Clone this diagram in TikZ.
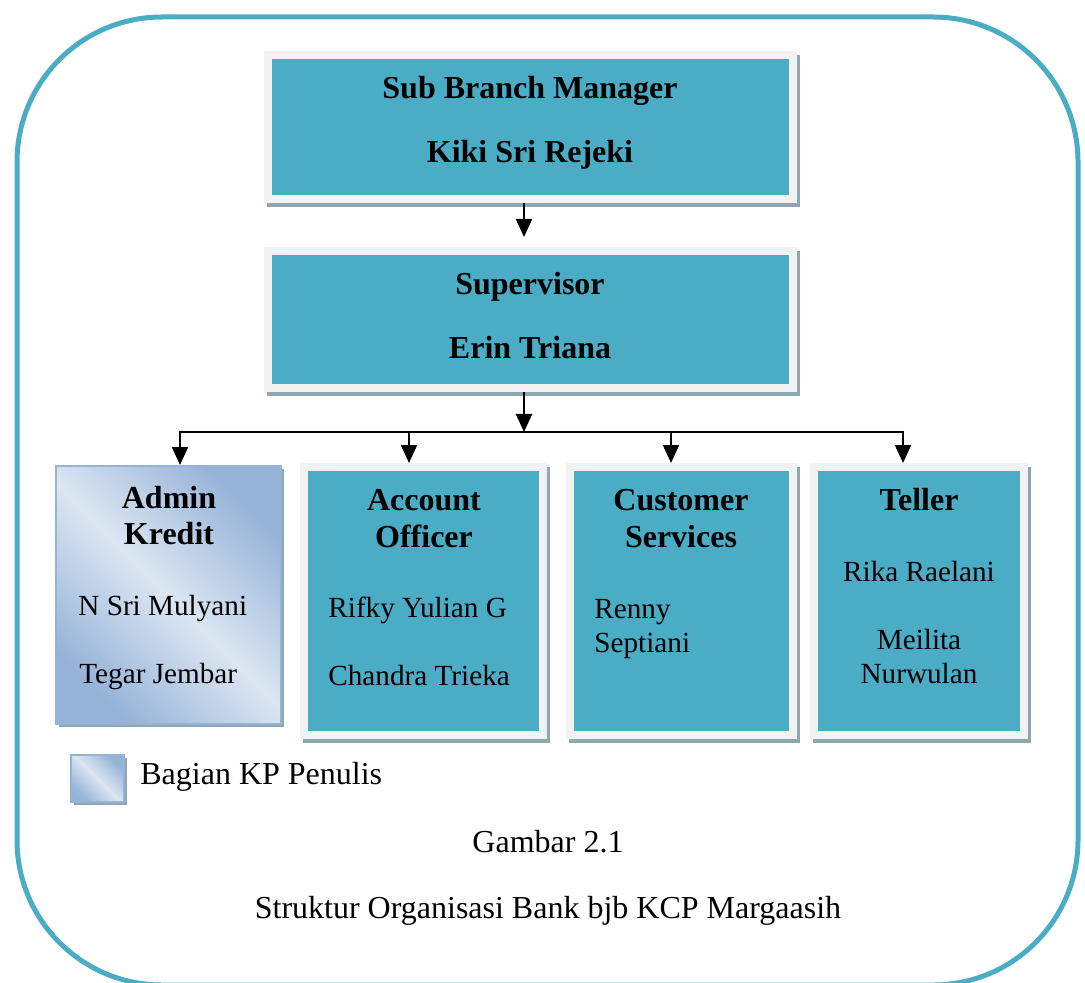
\documentclass[tikz,border=0pt]{standalone}
\usepackage{fontspec}
\setmainfont{Liberation Serif}
\usepackage{xcolor}
\usetikzlibrary{arrows.meta,shadows,positioning}

\definecolor{boxteal}{HTML}{4BACC6}
\definecolor{boxrim}{HTML}{F2F2F2}
\definecolor{boxshade}{HTML}{8FA7AF}
\definecolor{credlight}{HTML}{DCE6F2}
\definecolor{creddark}{HTML}{95B3D7}

\tikzset{
  unitbox/.style={rectangle,inner sep=0pt,fill=boxteal,draw=boxrim,line width=4pt,
    drop shadow={shadow xshift=1.5pt,shadow yshift=-2pt,fill=boxshade,draw=boxshade,line width=4pt,opacity=1}},
  credbox/.style={rectangle,inner sep=0pt,draw=creddark,line width=1pt,
    top color=creddark,bottom color=creddark,middle color=credlight,shading angle=-45,
    drop shadow={shadow xshift=1.5pt,shadow yshift=-1.5pt,fill=boxshade,opacity=1}},
  link/.style={line width=1pt,-{Triangle[width=8pt,length=9pt]}},
  head/.style={font=\fontsize{16}{19}\selectfont\bfseries,anchor=base,inner sep=0pt},
  staff/.style={font=\fontsize{14.6}{17}\selectfont,anchor=base west,inner sep=0pt},
  caption/.style={font=\fontsize{16}{19}\selectfont,anchor=base,inner sep=0pt}
}

\begin{document}
\begin{tikzpicture}[x=0.5pt,y=-0.5pt]
	\useasboundingbox (0,0) rectangle (1085,983);
	\draw[boxteal,line width=2.5pt,rounded corners=72.5pt] (17,17) rectangle (1078,985);

	% boxes
	\node[unitbox,minimum width=262.5pt,minimum height=72pt] (sbm) at (530.5,127) {};
	\node[unitbox,minimum width=262.5pt,minimum height=68.5pt] (sup) at (530.5,319.5) {};
	\node[credbox,minimum width=112.5pt,minimum height=129pt] (cred) at (168.5,595) {};
	\node[unitbox,minimum width=119.5pt,minimum height=134pt] (acct) at (423.5,601) {};
	\node[unitbox,minimum width=111.5pt,minimum height=134pt] (cust) at (681.5,601) {};
	\node[unitbox,minimum width=105pt,minimum height=134pt] (tell) at (919,601) {};

	% connectors
	\coordinate (spine) at (524,432);
	\draw[link,shorten >=5pt] (sbm.south -| spine) -- (sup.north -| spine);
	\draw[link] (sup.south -| spine) -- (spine);
	\foreach \n/\dx in {cred/5.75pt,acct/-7.25pt,cust/-5.25pt,tell/-8pt}
		\draw[link] (spine) -| ([xshift=\dx]\n.north);

	% texts
	\node[head] (sbmtitle) at (530,99) {Sub Branch Manager};
	\node[head] (sbmname) at (530,163) {Kiki Sri Rejeki};
	\node[head] (suptitle) at (530,295) {Supervisor};
	\node[head] (supname) at (530,359) {Erin Triana};

	\node[head] (credtitle) at (169,508) {Admin};
	\node[head] (credtitleb) at (169,544) {Kredit};
	\node[staff] (credname) at (78,615) {N Sri Mulyani};
	\node[staff] (crednameb) at (79,683) {Tegar Jembar};

	\node[head] (accttitle) at (424,510) {Account};
	\node[head] (accttitleb) at (424,547) {Officer};
	\node[staff] (acctname) at (328,617) {Rifky Yulian G};
	\node[staff] (acctnameb) at (328,685) {Chandra Trieka};

	\node[head] (custtitle) at (681,510) {Customer};
	\node[head] (custtitleb) at (681,547) {Services};
	\node[staff] (custname) at (594,618) {Renny};
	\node[staff] (custnameb) at (594,652) {Septiani};

	\node[head] (telltitle) at (919,510) {Teller};
	\node[staff,anchor=base] (tellname) at (919,581) {Rika Raelani};
	\node[staff,anchor=base] (tellnameb) at (919,649) {Meilita};
	\node[staff,anchor=base] (tellnamec) at (919,683) {Nurwulan};

	% legend and caption
	\node[credbox,minimum width=26.5pt,minimum height=23.5pt] (keybox) at (97.5,778.5) {};
	\node[caption,anchor=base west] (keytext) at (140,784) {Bagian KP Penulis};
	\node[caption] (figno) at (548,852) {Gambar 2.1};
	\node[caption] (figtitle) at (548,918) {Struktur Organisasi Bank bjb KCP Margaasih};
\end{tikzpicture}
\end{document}
